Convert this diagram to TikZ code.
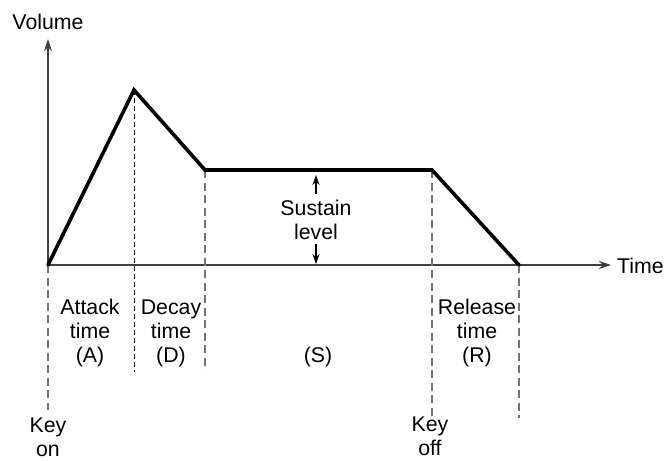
\documentclass[tikz,border=0pt]{standalone}
\usepackage{fontspec}
\setmainfont{Liberation Sans}
\usetikzlibrary{arrows.meta}
\begin{document}
\begin{tikzpicture}[x=1pt,y=-1pt,
  env/.style={line width=3.6pt, line join=miter, line cap=round},
  axis/.style={line width=1.4pt, black!75},
  guide/.style={dash pattern=on 8pt off 4.5pt, line width=1.4pt, black!55},
  thinguide/.style={dash pattern=on 5pt off 3pt, line width=0.9pt, black},
  lbl/.style={font=\fontsize{21.3}{24}\selectfont, align=center, inner sep=0pt},
  bigtip/.style={-{Stealth[length=12pt,width=8pt]}},
  smalltip/.style={-{Stealth[length=10pt,width=7pt]}, line width=1.1pt}]
\useasboundingbox (0,0) rectangle (668,460);
% key points
\coordinate (o) at (48,265);
\coordinate (yend) at (48,39);
\coordinate (xend) at (611,265);
\coordinate (peak) at (134,90);
\coordinate (dend) at (205,170);
\coordinate (send) at (432,170);
\coordinate (rend) at (519,265);
% guide ends
\coordinate (g1) at (48,410);
\coordinate (g2) at (134,372);
\coordinate (g3) at (205,370);
\coordinate (g4) at (432,418);
\coordinate (g5) at (519,418);
% axes
\draw[axis, bigtip] (o) -- (yend);
\draw[axis, bigtip] (o) -- (xend);
\node[lbl] (vol) at (48,22) {Volume};
\node[lbl, anchor=west] (time) at (617,266) {Time};
% guides
\draw[guide] (o) -- (g1);
\draw[thinguide] (peak) -- (g2);
\draw[guide] (dend) -- (g3);
\draw[guide] (send) -- (g4);
\draw[guide] (rend) -- (g5);
% envelope
\draw[env] (o) -- (peak) -- (dend) -- (send) -- (rend);
% sustain level
\node[lbl] (sus) at (316,220) {Sustain\\level};
\coordinate (sustop) at (316,175);
\coordinate (susbot) at (316,264);
\draw[smalltip] (316,194) -- (sustop);
\draw[smalltip] (316,244) -- (susbot);
% phase labels
\node[lbl] (att) at (90,333) {Attack\\time\\(A)};
\node[lbl] (dec) at (171,333) {Decay\\time\\(D)};
\node[lbl] (sph) at (318,357) {(S)};
\node[lbl] (rel) at (477,333) {Release\\time\\(R)};
\node[lbl] (keyon) at (48,437) {Key\\on};
\node[lbl] (keyoff) at (430,436) {Key\\off};
\end{tikzpicture}
\end{document}
